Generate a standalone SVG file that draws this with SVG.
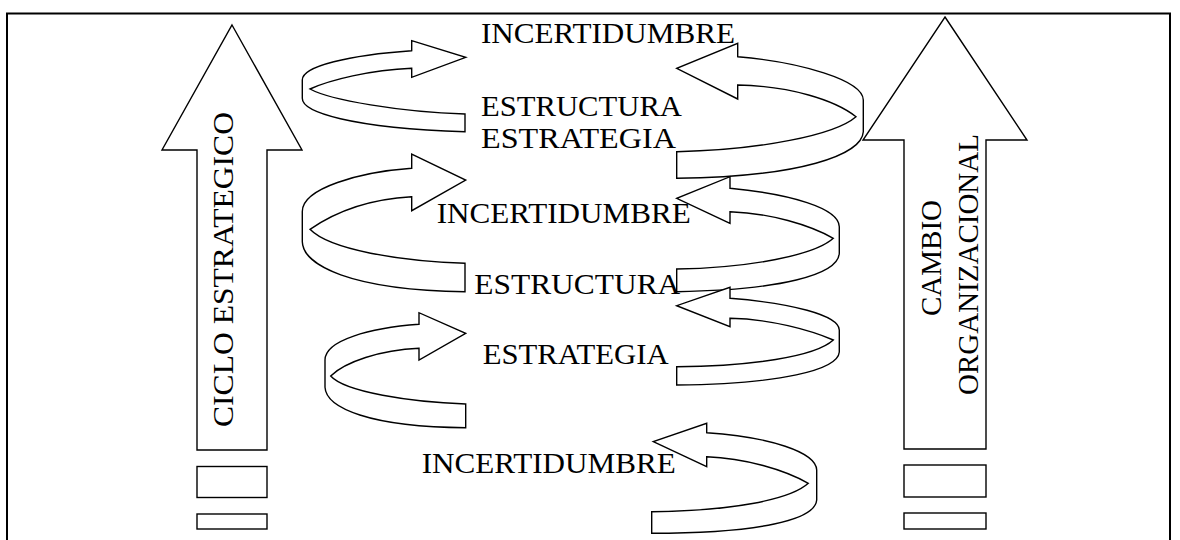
<svg xmlns="http://www.w3.org/2000/svg" width="1180" height="540" viewBox="0 0 1180 540">
<style>
.s{fill:#fff;stroke:#000;stroke-width:1.4;stroke-linejoin:miter}
.fr{fill:none;stroke:#000;stroke-width:2}
.t{font-family:"Liberation Serif","Times New Roman",serif;font-size:29px;fill:#000}
</style>
<rect width="1180" height="540" fill="#fff"/>
<path class="fr" d="M7,540 V13.5 H1170 V540"/>
<g id="ciclo">
<path class="s" d="M232,25 L302,150 L267,150 L267,450 L197,450 L197,150 L162,150 Z"/>
<rect class="s" x="197" y="466.5" width="70" height="31"/>
<rect class="s" x="197" y="514" width="70" height="15"/>
<text class="t" transform="translate(233,427) rotate(-90)" textLength="315" lengthAdjust="spacingAndGlyphs">CICLO ESTRATEGICO</text>
</g>
<g id="cambio">
<path class="s" d="M945,17 L1027,140 L986,140 L986,449 L904,449 L904,140 L863,140 Z"/>
<rect class="s" x="904" y="465" width="82" height="32"/>
<rect class="s" x="904" y="513" width="82" height="16"/>
<text class="t" transform="translate(941,258) rotate(-90)" text-anchor="middle">CAMBIO</text>
<text class="t" transform="translate(978,395) rotate(-90)">ORGANIZACIONAL</text>
</g>
<g id="connectors">
<path id="L1" class="s" d="M411.7,68.3 L411.7,77.3 L465.7,57.3 L411.7,40.7 L411.7,50.7 C350,55 302,66 302.3,80 L302.3,98.3 C302,112 350,128 465,131.7 L465,114 C400,112 330,100 310,89 C330,80 370,70 411.7,68.3 Z"/>
<path id="L2" class="s" d="M411.7,196.7 L411.7,210.7 L465.7,180 L411.7,154 L411.7,168.3 C360,172 302,188 302.3,211.7 L302.3,241.7 C303,265 350,290 465,291.7 L465,263.3 C400,261 330,250 310,229.3 C335,212 370,199 411.7,196.7 Z"/>
<path id="L3" class="s" d="M419,348.3 L419,360 L465.7,333.3 L419,312.7 L419,324.3 C370,328 325,340 325,360 L325,387.3 C326,408 370,427 465.7,427.7 L465.7,404 C410,402 345,392 330.7,376 C345,362 380,350 419,348.3 Z"/>
<path id="R1" class="s" d="M737.7,85 L737.7,99 L676.7,68.3 L737.7,43.3 L737.7,56.7 C800,62 863,80 863.3,100 L863.3,131.7 C862,155 800,177 676.7,178.3 L676.7,151.7 C760,150 835,135 856,116.7 C835,100 790,86 737.7,85 Z"/>
<path id="R2" class="s" d="M730,211.7 L730,223.3 L676.7,198.3 L730,176.7 L730,188.3 C790,194 839,208 839.3,226.7 L839.3,253.3 C838,275 780,290 676.7,291.7 L676.7,269 C750,268 815,255 833.3,238.3 C810,225 770,213 730,211.7 Z"/>
<path id="R3" class="s" d="M730,318.3 L730,326.7 L676.7,305.7 L730,287.3 L730,298.3 C790,303 839,315 839.3,330 L839.3,352 C838,370 780,384 676.7,385 L676.7,366.7 C750,366 815,357 833.3,340 C810,330 770,319 730,318.3 Z"/>
<path id="R4" class="s" d="M706.7,456.7 L706.7,466.7 L653.3,441.7 L706.7,423.3 L706.7,432.7 C770,437 816,452 816.7,470 L816.7,500 C815,520 760,533 651.7,533.3 L651.7,511.7 C730,511 790,500 808.3,483.3 C785,470 745,458 706.7,456.7 Z"/>
</g>
<g id="labels">
<text class="t" x="481" y="43.3" textLength="254" lengthAdjust="spacingAndGlyphs">INCERTIDUMBRE</text>
<text class="t" x="481" y="116" textLength="201" lengthAdjust="spacingAndGlyphs">ESTRUCTURA</text>
<text class="t" x="481" y="148.3" textLength="195" lengthAdjust="spacingAndGlyphs">ESTRATEGIA</text>
<text class="t" x="436.7" y="222.7" textLength="254" lengthAdjust="spacingAndGlyphs">INCERTIDUMBRE</text>
<text class="t" x="474.3" y="294" textLength="206" lengthAdjust="spacingAndGlyphs">ESTRUCTURA</text>
<text class="t" x="482.7" y="364.3" textLength="186" lengthAdjust="spacingAndGlyphs">ESTRATEGIA</text>
<text class="t" x="421.7" y="472.7" textLength="254" lengthAdjust="spacingAndGlyphs">INCERTIDUMBRE</text>
</g>
</svg>
